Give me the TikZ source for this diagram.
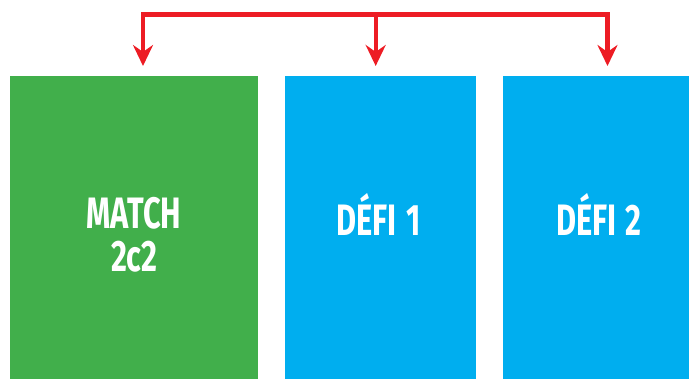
\documentclass[tikz,border=0pt]{standalone}
\usepackage{fontspec}
\setmainfont{Fira Sans}
\newfontfamily\labfont[FakeStretch=0.7]{Fira Sans}
\usetikzlibrary{arrows.meta}
\definecolor{boxgreen}{HTML}{41AF4B}
\definecolor{boxblue}{HTML}{00AEEF}
\definecolor{linered}{HTML}{ED1C24}
\tikzset{
  panel/.style={rectangle, draw=none, inner sep=0pt, anchor=north west, minimum height=303pt},
  lab/.style={text=white, align=center, inner sep=0pt, font=\labfont\bfseries\fontsize{44pt}{43.4pt}\selectfont},
  redline/.style={draw=linered, line width=4.3pt},
  redarrow/.style={redline, -{Stealth[length=21pt, width=20pt, inset=7pt]}}
}
\begin{document}
\begin{tikzpicture}[x=1pt,y=-1pt]
  \useasboundingbox (0,0) rectangle (689,379);
  \node[panel, fill=boxgreen, minimum width=248pt] (b1) at (10,76) {};
  \node[panel, fill=boxblue, minimum width=191pt] (b2) at (285,76) {};
  \node[panel, fill=boxblue, minimum width=186pt] (b3) at (503,76) {};
  \node[lab] (l1) at (134,234.5) {MATCH\\2c2};
  \node[lab, anchor=base] (l2) at (378.5,235.5) {DÉFI\hspace{2pt} 1};
  \node[lab, anchor=base] (l3) at (599,235.5) {DÉFI\hspace{2pt} 2};
  \coordinate (t1) at (143,14.5);
  \coordinate (t2) at (375.7,14.5);
  \coordinate (t3) at (607.5,14.5);
  \coordinate (e1) at (143,66);
  \coordinate (e2) at (375.7,66);
  \coordinate (e3) at (607.5,66);
  \draw[redline, line join=miter] (e1 |- 0,40) -- (t1) -- (t3) -- (e3 |- 0,40);
  \draw[redarrow] (t1) -- (e1);
  \draw[redarrow] (t2) -- (e2);
  \draw[redarrow] (t3) -- (e3);
\end{tikzpicture}
\end{document}
